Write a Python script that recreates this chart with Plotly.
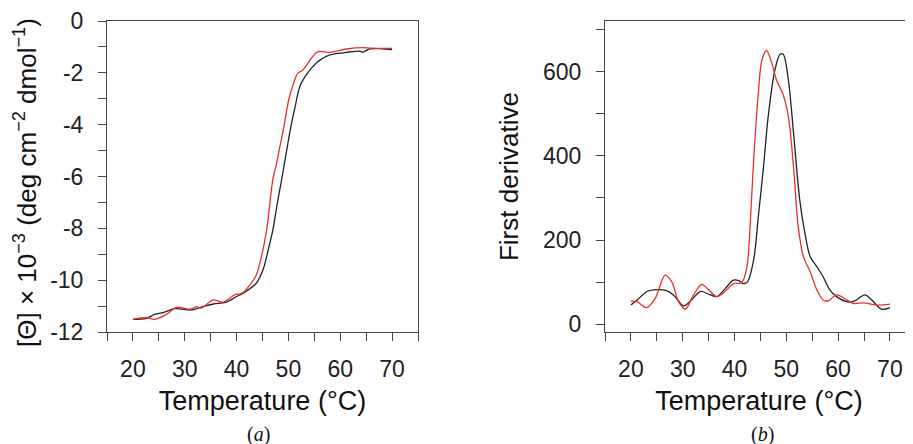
import plotly.graph_objects as go

# ---- Panel (a): CD melting curves ----
cd_black_T = [20, 22.6, 24.2, 25.8, 28.1, 31.3, 33.5, 35.5, 38, 40, 41.3, 43.8, 45.1, 46.1, 47, 47.8,
              48.8, 50, 50.6, 51.3, 52.2, 53.2, 54.7, 56, 58, 61.2, 63.7, 64.4, 65.7, 68, 70]
cd_black_v = [-11.51, -11.47, -11.32, -11.25, -11.1, -11.15, -11.02, -10.92, -10.85, -10.63, -10.5,
              -10.12, -9.6, -8.83, -8.06, -7.1, -6.0, -4.6, -3.95, -3.3, -2.53, -2.15, -1.76, -1.52,
              -1.31, -1.21, -1.16, -1.2, -1.08, -1.07, -1.1]
cd_red_T = [20, 22.6, 24.2, 26.5, 28.4, 31.1, 32.3, 33.2, 35.5, 37.4, 39.6, 41.1, 42.5, 43.8, 44.8,
            45.8, 47.0, 47.6, 48.2, 49.1, 50.1, 51, 51.8, 52.8, 54.2, 55.7, 58, 61.2, 64.4, 66, 70]
cd_red_v = [-11.51, -11.44, -11.51, -11.32, -11.05, -11.12, -11.02, -11.08, -10.76, -10.85, -10.57,
            -10.5, -10.2, -9.8, -9.09, -8.06, -6.1, -5.6, -5.0, -4.1, -3.0, -2.4, -2.02, -1.89, -1.5,
            -1.18, -1.21, -1.08, -1.03, -1.05, -1.06]

# ---- Panel (b): first derivative ----
d_black_T = [20, 21.2, 23.1, 24.4, 26.9, 28.2, 30.2, 31.4, 33.4, 35, 36.6, 38.2, 39.8, 40.8, 41.7,
             42.5, 43.7, 44.6, 45.6, 46.5, 47.8, 48.8, 49.4, 50.4, 51.4, 52.6, 53.6, 54.6, 55.9,
             57.1, 58.4, 59.7, 61.6, 62.9, 65.2, 66.5, 68.4, 70]
d_black_v = [46, 58, 78, 82, 80, 70, 44, 54, 78, 72, 66, 85, 105, 104, 97, 101, 153, 256, 374, 493,
             604, 641, 641, 580, 454, 295, 216, 161, 137, 113, 82, 66, 54, 54, 70, 58, 36, 40]
d_red_T = [20, 21.2, 23, 24.7, 26.6, 27.9, 29.2, 30.5, 32.1, 33.7, 35, 36.6, 38.5, 39.8, 41.4, 42.4,
           43, 43.7, 44.6, 45.3, 46.2, 47.2, 48.1, 49.4, 50.4, 51.4, 52.3, 53.3, 54.6, 55.9, 57.1,
           58.1, 59.7, 61.6, 62.9, 64.9, 67.4, 70]
d_red_v = [55, 54, 40, 62, 117, 101, 54, 36, 70, 95, 82, 66, 82, 97, 99, 137, 232, 390, 549, 628,
           650, 620, 580, 545, 493, 374, 232, 161, 125, 82, 58, 56, 70, 59, 50, 51, 46, 48]

# tick positions and labels (blank labels = unlabeled minor ticks)
cd_tickvals = [0, -1, -2, -3, -4, -5, -6, -7, -8, -9, -10, -11, -12]
cd_ticktext = ["0", "", "-2", "", "-4", "", "-6", "", "-8", "", "-10", "", "-12"]
d_tickvals = [0, 100, 200, 300, 400, 500, 600, 700]
d_ticktext = ["0", "", "200", "", "400", "", "600", ""]
x_tickvals = [15, 20, 25, 30, 35, 40, 45, 50, 55, 60, 65, 70, 75]
x_ticktext = ["", "20", "", "30", "", "40", "", "50", "", "60", "", "70", ""]

BLACK = "#222222"
RED = "#e8302a"
# page body has an 8px margin, so the figure is drawn 8px in from the window corner
OFF = 8
W, H = 913 - OFF, 444 - OFF


def px(xp):
    return (xp - OFF) / W


def py(yp):
    return 1 - (yp - OFF) / H


fig = go.Figure()
line_kw = dict(shape="spline", smoothing=0.9, width=1.3)
fig.add_trace(go.Scatter(x=cd_black_T, y=cd_black_v, mode="lines", line=dict(color=BLACK, **line_kw),
                         xaxis="x", yaxis="y", showlegend=False))
fig.add_trace(go.Scatter(x=cd_red_T, y=cd_red_v, mode="lines", line=dict(color=RED, **line_kw),
                         xaxis="x", yaxis="y", showlegend=False))
fig.add_trace(go.Scatter(x=d_black_T, y=d_black_v, mode="lines", line=dict(color=BLACK, **line_kw),
                         xaxis="x2", yaxis="y2", showlegend=False))
fig.add_trace(go.Scatter(x=d_red_T, y=d_red_v, mode="lines", line=dict(color=RED, **line_kw),
                         xaxis="x2", yaxis="y2", showlegend=False))

FONT = "Liberation Sans, Arial, sans-serif"
tickfont = dict(family=FONT, size=23, color="#222222")
titlefont = dict(family=FONT, size=27, color="#111111")
ytitlefont = dict(family=FONT, size=26, color="#111111")
capfont = dict(family="Liberation Serif, Times New Roman, serif", size=20, color="#111111")
ydom = [py(332), py(21)]

common_axis = dict(showgrid=False, zeroline=False, showline=True, linecolor="#444444", linewidth=1,
                   ticks="outside", ticklen=8, tickcolor="#444444", tickwidth=1,
                   tickfont=tickfont, automargin=False, tickmode="array")

fig.update_layout(
    width=W, height=H,
    margin=dict(l=0, r=0, t=0, b=0),
    paper_bgcolor="white", plot_bgcolor="white",
    xaxis=dict(domain=[px(107), px(418)], range=[15, 75], tickvals=x_tickvals, ticktext=x_ticktext,
               mirror=True, ticklabelstandoff=8,
               title=dict(text="Temperature (°C)", font=titlefont, standoff=10),
               anchor="y", **common_axis),
    yaxis=dict(domain=ydom, range=[-12, 0], tickvals=cd_tickvals, ticktext=cd_ticktext, mirror=True,
               ticklabelstandoff=10, anchor="x", **common_axis),
    xaxis2=dict(domain=[px(605), 1.0], range=[15, 74.46], tickvals=x_tickvals, ticktext=x_ticktext,
                mirror=True, ticklabelstandoff=8,
                title=dict(text="Temperature (°C)", font=titlefont, standoff=10),
                anchor="y2", **common_axis),
    yaxis2=dict(domain=ydom, range=[-18, 720], tickvals=d_tickvals, ticktext=d_ticktext, mirror=False,
                ticklabelstandoff=10,
                title=dict(text="First derivative", font=ytitlefont, standoff=16),
                anchor="x2", **common_axis),
    annotations=[
        dict(text="[Θ] × 10<sup>−3</sup> (deg cm<sup>−2</sup> dmol<sup>−1</sup>)",
             x=px(25), y=py(183), xref="paper", yref="paper", textangle=-90,
             showarrow=False, xanchor="center", yanchor="middle", font=ytitlefont),
        dict(text="(<i>a</i>)", x=px(259), y=py(434), xref="paper", yref="paper",
             showarrow=False, xanchor="center", yanchor="middle", font=capfont),
        dict(text="(<i>b</i>)", x=px(762), y=py(434), xref="paper", yref="paper",
             showarrow=False, xanchor="center", yanchor="middle", font=capfont),
    ],
)

fig.write_html("out.html")
